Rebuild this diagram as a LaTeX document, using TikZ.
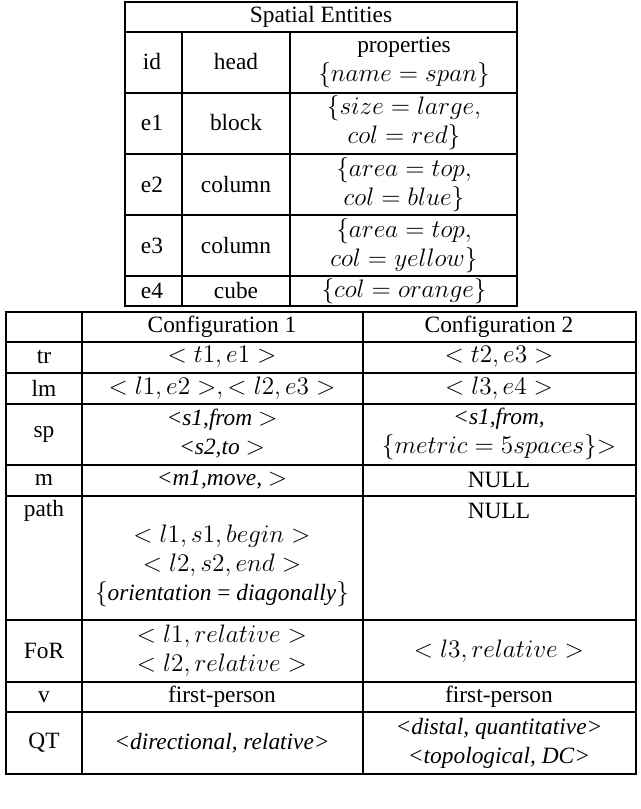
\documentclass[tikz,border=0pt]{standalone}
\usepackage[no-math]{fontspec}
\setmainfont{Liberation Serif}
\begin{document}
\begin{tikzpicture}[x=0.02cm,y=-0.02cm,
  grid/.style={line width=0.8pt,black},
  cell/.style={inner sep=0pt,align=center,font=\fontsize{13.3}{15}\selectfont},
  two/.style={cell,font=\fontsize{13.3}{16.5}\selectfont}]
\useasboundingbox (0,0) rectangle (640,809);
% top table
\draw[grid] (125,2) rectangle (517,306);
\foreach \y in {32,93,154,215,276} \draw[grid] (125,\y) -- (517,\y);
\draw[grid] (182,32) -- (182,306);
\draw[grid] (290,32) -- (290,306);
\node[cell] (h) at (321,17) {Spatial Entities};
\node[cell] (hid) at (152,62) {id};
\node[cell] (hhead) at (236,62) {head};
\node[two] (hprop) at (404,62) {properties\\$\{name=span\}$};
\node[cell] (i1) at (152,123) {e1};
\node[cell] (b1) at (236,123) {block};
\node[two] (p1) at (404,123) {$\{size=large,$\\$col=red\}$};
\node[cell] (i2) at (152,185) {e2};
\node[cell] (b2) at (236,185) {column};
\node[two] (p2) at (404,185) {$\{area=top,$\\$col=blue\}$};
\node[cell] (i3) at (152,246) {e3};
\node[cell] (b3) at (236,246) {column};
\node[two] (p3) at (404,246) {$\{area=top,$\\$col=yellow\}$};
\node[cell] (i4) at (152,291) {e4};
\node[cell] (b4) at (236,291) {cube};
\node[cell] (p4) at (404,291) {$\{col=orange\}$};
% bottom table
\draw[grid] (6,312) rectangle (636,774);
\foreach \y in {342,373,404,465,496,620,682,712} \draw[grid] (6,\y) -- (636,\y);
\draw[grid] (82,312) -- (82,774);
\draw[grid] (363,312) -- (363,774);
\node[cell] (c1) at (222,327) {Configuration 1};
\node[cell] (c2) at (499,327) {Configuration 2};
\node[cell] (rtr) at (44,357) {tr};
\node[cell] (tr1) at (222,357) {$<t1,e1>$};
\node[cell] (tr2) at (499,357) {$<t2,e3>$};
\node[cell] (rlm) at (44,388) {lm};
\node[cell] (lm1) at (222,388) {$<l1,e2>,<l2,e3>$};
\node[cell] (lm2) at (499,388) {$<l3,e4>$};
\node[cell] (rsp) at (44,434) {sp};
\node[two] (sp1) at (222,434) {\textit{<s1,from} $>$\\\textit{<s2,to} $>$};
\node[two] (sp2) at (499,434) {\textit{<s1,from,}\\$\{metric=5spaces\}{>}$};
\node[cell] (rm) at (44,480) {m};
\node[cell] (m1) at (222,480) {\textit{<m1,move,} $>$};
\node[cell] (m2) at (499,480) {NULL};
\node[cell] (rpath) at (44,511) {path};
\node[two] (pa1) at (222,566) {$<l1,s1,begin>$\\$<l2,s2,end>$\\$\{$\textit{orientation} = \textit{diagonally}$\}$};
\node[cell] (pa2) at (499,511) {NULL};
\node[cell] (rfor) at (44,651) {FoR};
\node[two] (f1) at (222,651) {$<l1,relative>$\\$<l2,relative>$};
\node[cell] (f2) at (499,651) {$<l3,relative>$};
\node[cell] (rv) at (44,697) {v};
\node[cell] (v1) at (222,697) {first-person};
\node[cell] (v2) at (499,697) {first-person};
\node[cell] (rqt) at (44,743) {QT};
\node[cell] (q1) at (222,743) {\textit{<directional, relative>}};
\node[two] (q2) at (499,743) {\textit{<distal, quantitative>}\\\textit{<topological, DC>}};
\end{tikzpicture}
\end{document}
